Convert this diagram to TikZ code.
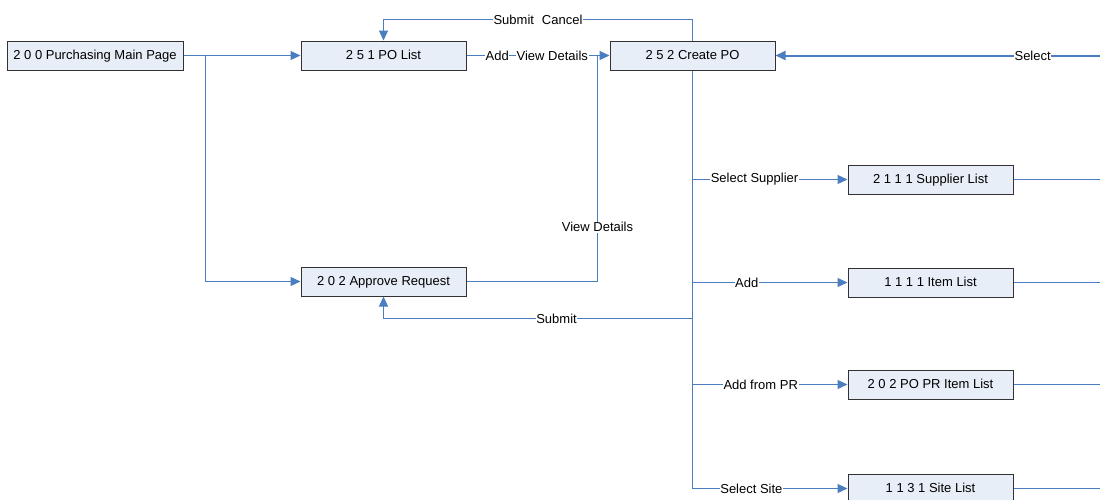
\documentclass[tikz,border=0pt]{standalone}
\usepackage{fontspec}
\setmainfont{Liberation Sans}
\usetikzlibrary{arrows.meta}
\definecolor{linkblue}{RGB}{74,126,192}
\definecolor{boxfill}{RGB}{232,238,247}
\definecolor{boxline}{RGB}{50,50,50}
\begin{document}
\begin{tikzpicture}[x=1pt,y=-1pt,
  every node/.style={font=\fontsize{13}{15}\selectfont},
  pagebox/.style={draw=boxline, fill=boxfill, line width=1pt, minimum width=165pt, minimum height=29pt, inner sep=0pt, text height=9.5pt, text depth=1pt},
  link/.style={draw=linkblue, line width=1pt},
  arr/.style={link, -{Triangle[length=10pt,width=9pt]}},
  lbl/.style={fill=white, inner sep=0.6pt, text=black}]
\useasboundingbox (0,0) rectangle (1100,499);
\clip (0,0) rectangle (1100,499);

% pages
\node[pagebox, minimum width=176pt] (main) at (95,55.5) {2 0 0 Purchasing Main Page};
\node[pagebox] (polist) at (383.5,55.5) {2 5 1 PO List};
\node[pagebox] (create) at (692.5,55.5) {2 5 2 Create PO};
\node[pagebox] (approve) at (383.5,281.5) {2 0 2 Approve Request};
\node[pagebox] (supplier) at (930.5,179.5) {2 1 1 1 Supplier List};
\node[pagebox] (item) at (930.5,282.5) {1 1 1 1 Item List};
\node[pagebox] (pritem) at (930.5,384.5) {2 0 2 PO PR Item List};
\node[pagebox] (site) at (930.5,488.5) {1 1 3 1 Site List};

% junction and turning points
\coordinate (mj) at (205.5,55.5);
\coordinate (vj) at (597.5,55.5);
\coordinate (top) at (692.5,19.5);
\coordinate (t1) at (692.5,179.5);
\coordinate (t2) at (692.5,282.5);
\coordinate (t3) at (692.5,318.5);
\coordinate (t4) at (692.5,384.5);
\coordinate (t5) at (692.5,488.5);
\coordinate (r0) at (1101,55.5);
\coordinate (r1) at (1101,179.5);
\coordinate (r2) at (1101,282.5);
\coordinate (r3) at (1101,384.5);
\coordinate (r4) at (1101,488.5);

% main page
\draw[arr] (main.east) -- (polist.west);
\draw[arr] (mj) |- (approve.west);

% PO list to create PO
\draw[arr] (polist.east) -- node[lbl,pos=0.215]{Add} node[lbl,pos=0.6]{View Details} (create.west);
\draw[link] (approve.east) -| node[lbl,pos=0.62]{View Details} (vj);

% submit / cancel back to PO list
\draw[arr] (create.north) -- (top) -| node[lbl,pos=0.25]{Submit\,\, Cancel} (polist.north);

% trunk below create PO
\draw[link] (create.south) -- (t5);
\draw[arr] (t1) -- node[lbl,pos=0.4]{Select Supplier} (supplier.west);
\draw[arr] (t2) -- node[lbl,pos=0.35]{Add} (item.west);
\draw[arr] (t3) -| node[lbl,pos=0.22]{Submit} (approve.south);
\draw[arr] (t4) -- node[lbl,pos=0.44]{Add from PR} (pritem.west);
\draw[arr] (t5) -- node[lbl,pos=0.38]{Select Site} (site.west);

% returns from the list pages
\draw[link] (supplier.east) -- (r1);
\draw[link] (item.east) -- (r2);
\draw[link] (pritem.east) -- (r3);
\draw[link] (site.east) -- (r4);
\draw[arr, line width=2pt] (r0) -- node[lbl,pos=0.21]{Select} (create.east);
\end{tikzpicture}
\end{document}
